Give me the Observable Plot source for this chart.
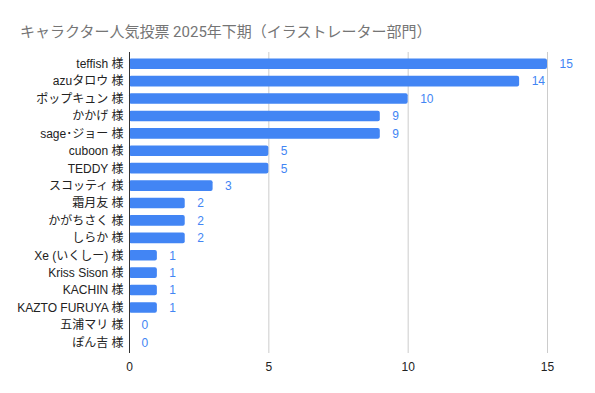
<!DOCTYPE html>
<html><head><meta charset="utf-8">
<script src="https://cdn.jsdelivr.net/npm/d3@7"></script>
<script src="https://cdn.jsdelivr.net/npm/@observablehq/plot@0.6"></script>
<style>
html,body{margin:0;padding:0;background:#fff;}
#wrap{position:relative;width:595px;height:393px;overflow:hidden;}
#title{position:absolute;left:20px;top:20px;font-family:Roboto,"Noto Sans CJK JP",sans-serif;font-size:15px;color:#757575;white-space:nowrap;}
#chart{position:absolute;left:0;top:45px;}
</style></head>
<body><div id="wrap"><div id="title">キャラクター人気投票 2025年下期（イラストレーター部門）</div><div id="chart"></div></div>
<script>
const names = ["teffish 様","azuタロウ 様","ポップキュン 様","かかげ 様","sage･ジョー 様","cuboon 様","TEDDY 様","スコッティ 様","霜月友 様","かがちさく 様","しらか 様","Xe (いくしー) 様","Kriss Sison 様","KACHIN 様","KAZTO FURUYA 様","五浦マリ 様","ぽん吉 様"];
const votes = [15,14,10,9,9,5,5,3,2,2,2,1,1,1,1,0,0];
const xTicks = [0,5,10,15];
const data = names.map((n,i)=>({name:n, votes:votes[i]}));
const font = '"Liberation Sans","Noto Sans CJK JP",sans-serif';
const chart = Plot.plot({
  width:595, height:348,
  marginLeft:129, marginRight:48, marginTop:10, marginBottom:42,
  style:{fontFamily:font, fontSize:"12px", color:"#222", background:"white"},
  x:{domain:[0,15], ticks:xTicks, label:null, tickSize:0, tickPadding:11},
  y:{domain:names, label:null, tickSize:0, tickPadding:6, padding:0, round:false},
  marks:[
    Plot.ruleX(xTicks.filter(d=>d>0), {stroke:"#cccccc", strokeWidth:1, strokeOpacity:1, insetTop:-3, insetBottom:-2}),
    Plot.barX(data, {y:"name", x:"votes", fill:"#4285f4", rx:2, insetTop:3.4, insetBottom:3.4}),
    Plot.ruleX([0], {stroke:"#333", strokeWidth:1, insetTop:-3, insetBottom:-2}),
    Plot.text(data, {y:"name", x:"votes", text:d=>String(d.votes), dx:12, textAnchor:"start", fill:"#4285f4", fontSize:12})
  ]
});
document.getElementById("chart").appendChild(chart);
</script></body></html>
